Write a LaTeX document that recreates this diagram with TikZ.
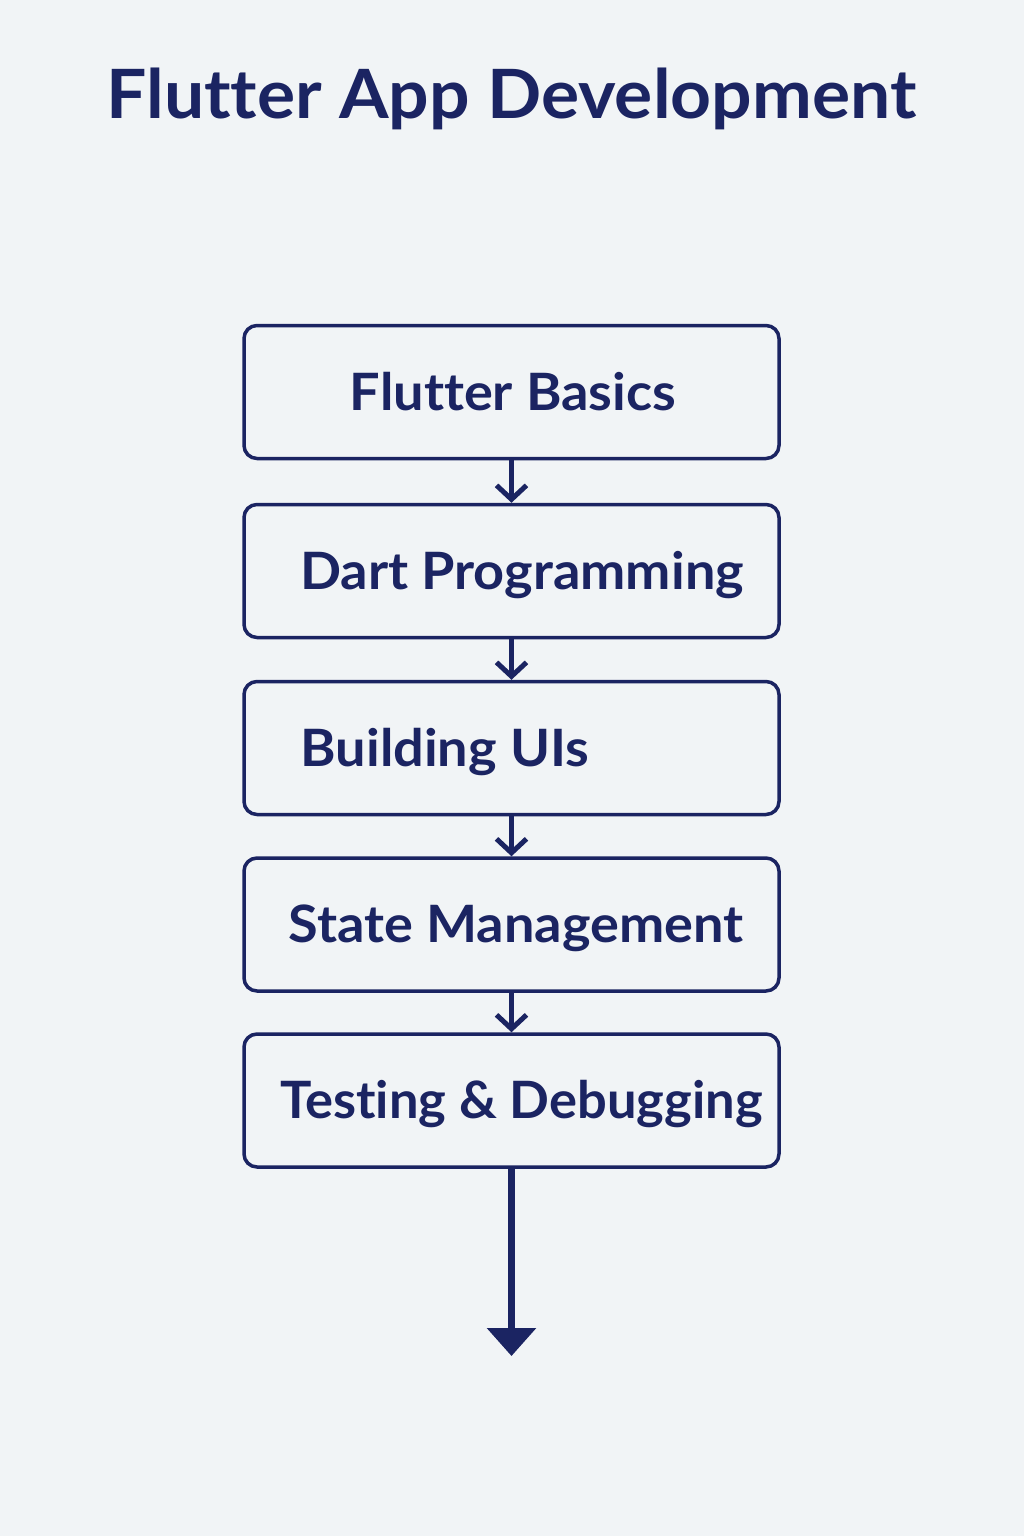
\documentclass[tikz,border=0pt]{standalone}
\usepackage{fontspec}
\setmainfont[Ligatures={NoCommon},FakeStretch=1.05]{Lato}
\usetikzlibrary{arrows.meta}
\definecolor{navy}{HTML}{1B2462}
\definecolor{paper}{HTML}{F1F4F6}
\tikzset{
    stepbox/.style={rectangle,rounded corners=13pt,draw=navy,line width=3.5pt,minimum width=535pt,minimum height=133pt},
    steptext/.style={anchor=base,text=navy,font=\fontsize{51.5}{60}\selectfont\bfseries,inner sep=0pt},
    title/.style={anchor=base,text=navy,font=\fontsize{68}{80}\selectfont\bfseries,inner sep=0pt},
    dedge/.style={draw=navy,line width=5pt,-{Straight Barb[length=14pt,width=30pt,line width=5pt]}},
    bigedge/.style={-{Triangle[length=28pt,width=48pt]},draw=navy,line width=6.5pt},
}

\begin{document}
\begin{tikzpicture}[x=1pt,y=-1pt]
\fill[paper] (0,0) rectangle (1024,1536);
\useasboundingbox (0,0) rectangle (1024,1536);
\node[title] (head) at (511.5,119) {Flutter App Development};
\node[stepbox] (1) at (511.5,392) {};
\node[stepbox] (2) at (511.5,571) {};
\node[stepbox] (3) at (511.5,748) {};
\node[stepbox] (4) at (511.5,924.5) {};
\node[stepbox] (5) at (511.5,1100.5) {};
\node[steptext] (t1) at (513,410) {Flutter Basics};
\node[steptext] (t2) at (522,589) {Dart Programming};
\node[steptext] (t3) at (445,766) {Building UIs};
\node[steptext] (t4) at (516,942.5) {State Management};
\node[steptext,xscale=0.97] (t5) at (521.5,1118) {Testing \& Debugging};
\coordinate (end) at (511.5,1356);
\draw[dedge] (1) -- (2);
\draw[dedge] (2) -- (3);
\draw[dedge] (3) -- (4);
\draw[dedge] (4) -- (5);
\draw[bigedge] (5) -- (end);
\end{tikzpicture}
\end{document}
